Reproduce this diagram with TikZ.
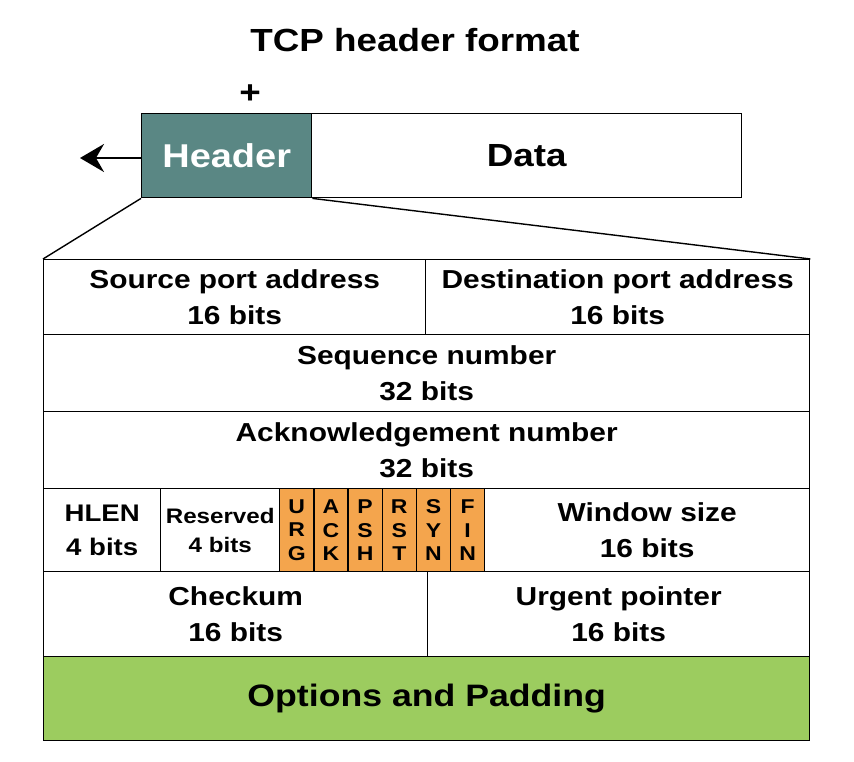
\documentclass[tikz,border=0pt]{standalone}
\usepackage{fontspec}
\setmainfont{Liberation Sans}[FakeStretch=1.15]
\usetikzlibrary{arrows.meta}
\definecolor{teal1}{HTML}{5A8784}
\definecolor{flag}{HTML}{F4A54D}
\definecolor{opt}{HTML}{9CCC5F}
\begin{document}
\begin{tikzpicture}[x=1pt,y=-1pt,
  cell/.style={draw=black,line width=1.4pt,rectangle,anchor=north west,inner sep=0pt,align=center,
    font=\fontsize{26}{36}\selectfont\bfseries},
  flagcell/.style={cell,fill=flag,minimum width=34.17pt,minimum height=83pt,font=\fontsize{20}{23.5}\selectfont\bfseries}]
\useasboundingbox (0,0) rectangle (854,762);
\fill[white] (0,0) rectangle (854,762);
% title
\node[font=\fontsize{32}{38}\selectfont\bfseries] (title) at (415,40) {TCP header format};
\node[font=\fontsize{32}{38}\selectfont\bfseries] (plus) at (250,94) {+};
% header / data
\node[cell,fill=teal1,text=white,minimum width=170pt,minimum height=84pt,font=\fontsize{33}{38}\selectfont\bfseries] (hdr) at (141,113) {Header};
\node[cell,minimum width=430pt,minimum height=84pt,font=\fontsize{32}{38}\selectfont\bfseries] (data) at (311,113) {Data};
\coordinate (tip) at (80,158);
\draw[line width=2.6pt,-{Stealth[length=24pt,width=28pt,inset=8pt]}] (hdr.west |- tip) -- (tip);
% rows
\node[cell,minimum width=382pt,minimum height=75pt] (src) at (43,259) {Source port address\\16 bits};
\node[cell,minimum width=384pt,minimum height=75pt] (dst) at (425,259) {Destination port address\\16 bits};
\node[cell,minimum width=766pt,minimum height=77pt] (seq) at (43,334) {Sequence number\\32 bits};
\node[cell,minimum width=766pt,minimum height=77pt] (ack) at (43,411) {Acknowledgement number\\32 bits};
\node[cell,minimum width=117pt,minimum height=83pt,font=\fontsize{24}{34}\selectfont\bfseries] (hlen) at (43,488) {HLEN\\4 bits};
\node[cell,minimum width=119pt,minimum height=83pt,font=\fontsize{21}{29}\selectfont\bfseries] (res) at (160,488) {Reserved\\4 bits};
\node[flagcell] (urg) at (279,488) {U\\R\\G};
\node[flagcell] (ackf) at (313.17,488) {A\\C\\K};
\node[flagcell] (psh) at (347.33,488) {P\\S\\H};
\node[flagcell] (rst) at (381.5,488) {R\\S\\T};
\node[flagcell] (syn) at (415.67,488) {S\\Y\\N};
\node[flagcell] (fin) at (449.83,488) {F\\I\\N};
\node[cell,minimum width=325pt,minimum height=83pt] (win) at (484,488) {Window size\\16 bits};
\node[cell,minimum width=384pt,minimum height=85pt] (chk) at (43,571) {Checkum\\16 bits};
\node[cell,minimum width=382pt,minimum height=85pt] (urgp) at (427,571) {Urgent pointer\\16 bits};
\node[cell,fill=opt,minimum width=766pt,minimum height=84pt,font=\fontsize{31}{36}\selectfont\bfseries] (optn) at (43,656) {Options and Padding};
% expansion lines
\draw[line width=1.4pt] (hdr.south west) -- (src.north west);
\draw[line width=1.4pt] (hdr.south east) -- (dst.north east);
\end{tikzpicture}
\end{document}
